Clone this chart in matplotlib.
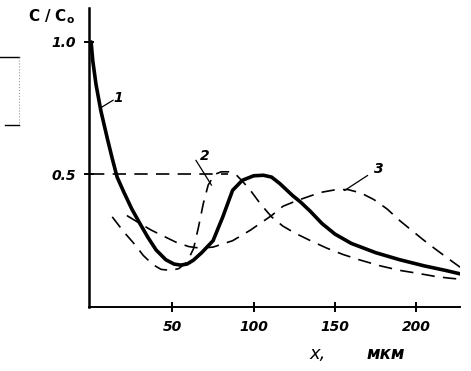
import matplotlib.pyplot as plt
from matplotlib.lines import Line2D

# curve 1 (solid)
x1 = [0, 1, 3, 6, 10, 13, 16, 20, 25, 30, 35, 40, 46, 51, 55, 59, 63, 68, 75, 81,
      87, 93, 100, 106, 111, 116, 124, 129, 135, 142, 150, 160, 175, 190, 205, 218, 227]
y1 = [1.0, 0.93, 0.84, 0.74, 0.635, 0.56, 0.49, 0.435, 0.37, 0.315, 0.262, 0.215, 0.178,
      0.162, 0.158, 0.162, 0.177, 0.205, 0.25, 0.34, 0.44, 0.478, 0.495, 0.497, 0.49,
      0.466, 0.42, 0.395, 0.36, 0.315, 0.275, 0.24, 0.205, 0.178, 0.155, 0.138, 0.125]

# curve 2 (dashed)
x2 = [13, 18, 22, 27, 32, 38, 43, 49, 54, 59, 63, 66, 69, 72, 76, 80, 85, 89, 93, 98,
      104, 111, 118, 125, 135, 145, 155, 165, 178, 190, 200, 212, 220, 227]
y2 = [0.34, 0.30, 0.27, 0.235, 0.195, 0.16, 0.142, 0.138, 0.145, 0.17, 0.22, 0.30, 0.39,
      0.46, 0.50, 0.51, 0.51, 0.50, 0.475, 0.44, 0.39, 0.34, 0.305, 0.28, 0.25, 0.222,
      0.198, 0.178, 0.155, 0.138, 0.128, 0.115, 0.109, 0.105]

# curve 3 (dashed)
x3 = [22, 30, 37, 46, 52, 60, 67, 75, 87, 98, 111, 118, 126, 133, 141, 150, 158, 166,
      174, 182, 190, 197, 204, 211, 218, 227]
y3 = [0.345, 0.315, 0.29, 0.263, 0.245, 0.228, 0.222, 0.226, 0.25, 0.29, 0.345, 0.38,
      0.40, 0.415, 0.432, 0.442, 0.443, 0.43, 0.405, 0.37, 0.325, 0.29, 0.255, 0.222,
      0.19, 0.15]

# level line C/C0 = 0.5
x_level = [0, 84]
y_level = [0.5, 0.5]

xticks = [50, 100, 150, 200]
yticks = [0.5, 1.0]

font = dict(fontsize=10, fontweight="bold", fontstyle="italic", family="DejaVu Sans")

fig = plt.figure(figsize=(4.71, 3.71), dpi=100)
ax = fig.add_axes([0.19, 0.1725, 0.787, 0.806])

ax.plot(x1, y1, color="black", lw=2.6, solid_capstyle="round", solid_joinstyle="round")
ax.plot(x2, y2, color="black", lw=1.2, dashes=(8, 5))
ax.plot(x3, y3, color="black", lw=1.2, dashes=(8, 5))
ax.plot(x_level, y_level, color="black", lw=1.2, dashes=(8, 5))

# curve labels with leader lines
ax.text(16.6, 0.79, "1", ha="center", va="center", **font)
ax.plot([13.5, 5.5], [0.78, 0.75], color="black", lw=0.9)
ax.text(70, 0.57, "2", ha="center", va="center", **font)
ax.plot([64.5, 74], [0.553, 0.46], color="black", lw=0.9)
ax.text(177, 0.52, "3", ha="center", va="center", **font)
ax.plot([170, 156], [0.496, 0.44], color="black", lw=0.9)

ax.set_xlim(-1, 227)
ax.set_ylim(0, 1.128)
for s in ["top", "right"]:
    ax.spines[s].set_visible(False)
ax.spines["left"].set_linewidth(1.8)
ax.spines["bottom"].set_linewidth(1.4)

ax.set_xticks(xticks)
ax.set_xticklabels([str(t) for t in xticks], **font)
ax.set_yticks(yticks)
ax.set_yticklabels(["0.5", "1.0"], **font)
ax.tick_params(direction="inout", length=7, width=1.4, pad=6)

fig.text(0.11, 0.955, r"$\mathbf{C\ /\ C_o}$", fontsize=11, ha="center", va="center")
fig.text(0.675, 0.045, "x,", fontsize=13, fontstyle="italic", ha="center", va="center")
fig.text(0.82, 0.045, "мкм", fontsize=12, fontweight="bold", fontstyle="italic",
         ha="center", va="center")

# scan artifact at the left edge
fig.add_artist(Line2D([0.0, 0.04], [0.846, 0.846], color="black", lw=1.0))
fig.add_artist(Line2D([0.04, 0.04], [0.846, 0.663], color="0.6", lw=0.8, ls=":"))
fig.add_artist(Line2D([0.01, 0.04], [0.663, 0.663], color="black", lw=1.0))

fig.savefig("out.png", dpi=100)
